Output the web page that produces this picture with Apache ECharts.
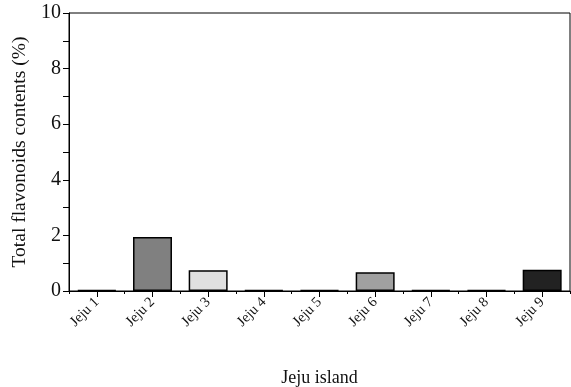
<!DOCTYPE html>
<html>
<head>
<meta charset="utf-8">
<script src="https://cdn.jsdelivr.net/npm/echarts@6/dist/echarts.min.js"></script>
<style>
  html, body { margin: 0; padding: 0; background: #fff; }
  #main { width: 571px; height: 387px; }
</style>
</head>
<body>
<div id="main"></div>
<script>
// data
var sites = ['Jeju 1', 'Jeju 2', 'Jeju 3', 'Jeju 4', 'Jeju 5', 'Jeju 6', 'Jeju 7', 'Jeju 8', 'Jeju 9'];
var contents = [0.03, 1.94, 0.75, 0.03, 0.03, 0.67, 0.03, 0.03, 0.76];
var barColors = ['#111111', '#808080', '#e0e0e0', '#111111', '#111111', '#a0a0a0', '#111111', '#111111', '#222222'];

var myChart = echarts.init(document.getElementById('main'));
var font = 'Liberation Serif';

var option = {
    animation: false,
    textStyle: { fontFamily: font },
    grid: {
        left: 69, top: 13, right: 1, bottom: 96,
        outerBoundsMode: 'none',
        containLabel: false,
        show: true, borderColor: '#000', borderWidth: 1
    },
    xAxis: [
        {
            type: 'category',
            data: sites,
            name: 'Jeju island',
            nameLocation: 'middle',
            nameGap: 78,
            nameTextStyle: { fontFamily: font, fontSize: 18, color: '#111' },
            axisLine: { lineStyle: { color: '#000', width: 1 } },
            axisTick: { show: true, length: 3, lineStyle: { color: '#000' } },
            axisLabel: {
                rotate: 45, interval: 0, margin: 9,
                fontFamily: font, fontSize: 14.5, color: '#111'
            }
        },
        {
            type: 'category',
            data: sites,
            position: 'bottom',
            axisLine: { show: false },
            axisTick: { show: true, alignWithLabel: true, length: 6, lineStyle: { color: '#000' } },
            axisLabel: { show: false }
        }
    ],
    yAxis: {
        type: 'value',
        min: 0, max: 10, interval: 2,
        name: 'Total flavonoids contents (%)',
        nameLocation: 'middle',
        nameGap: 36,
        nameTextStyle: { fontFamily: font, fontSize: 19.5, color: '#111' },
        axisLine: { show: true, lineStyle: { color: '#000', width: 1 } },
        axisTick: { show: true, length: 6, lineStyle: { color: '#000' } },
        minorTick: { show: true, splitNumber: 2, length: 6, lineStyle: { color: '#000' } },
        splitLine: { show: false },
        axisLabel: { fontFamily: font, fontSize: 20, color: '#111', margin: 8 }
    },
    series: [{
        type: 'bar',
        xAxisIndex: 0,
        barWidth: '70%',
        data: contents.map(function (v, i) {
            return {
                value: v,
                itemStyle: { color: barColors[i], borderColor: '#000', borderWidth: 1.5 }
            };
        })
    }]
};
myChart.setOption(option);
</script>
</body>
</html>
